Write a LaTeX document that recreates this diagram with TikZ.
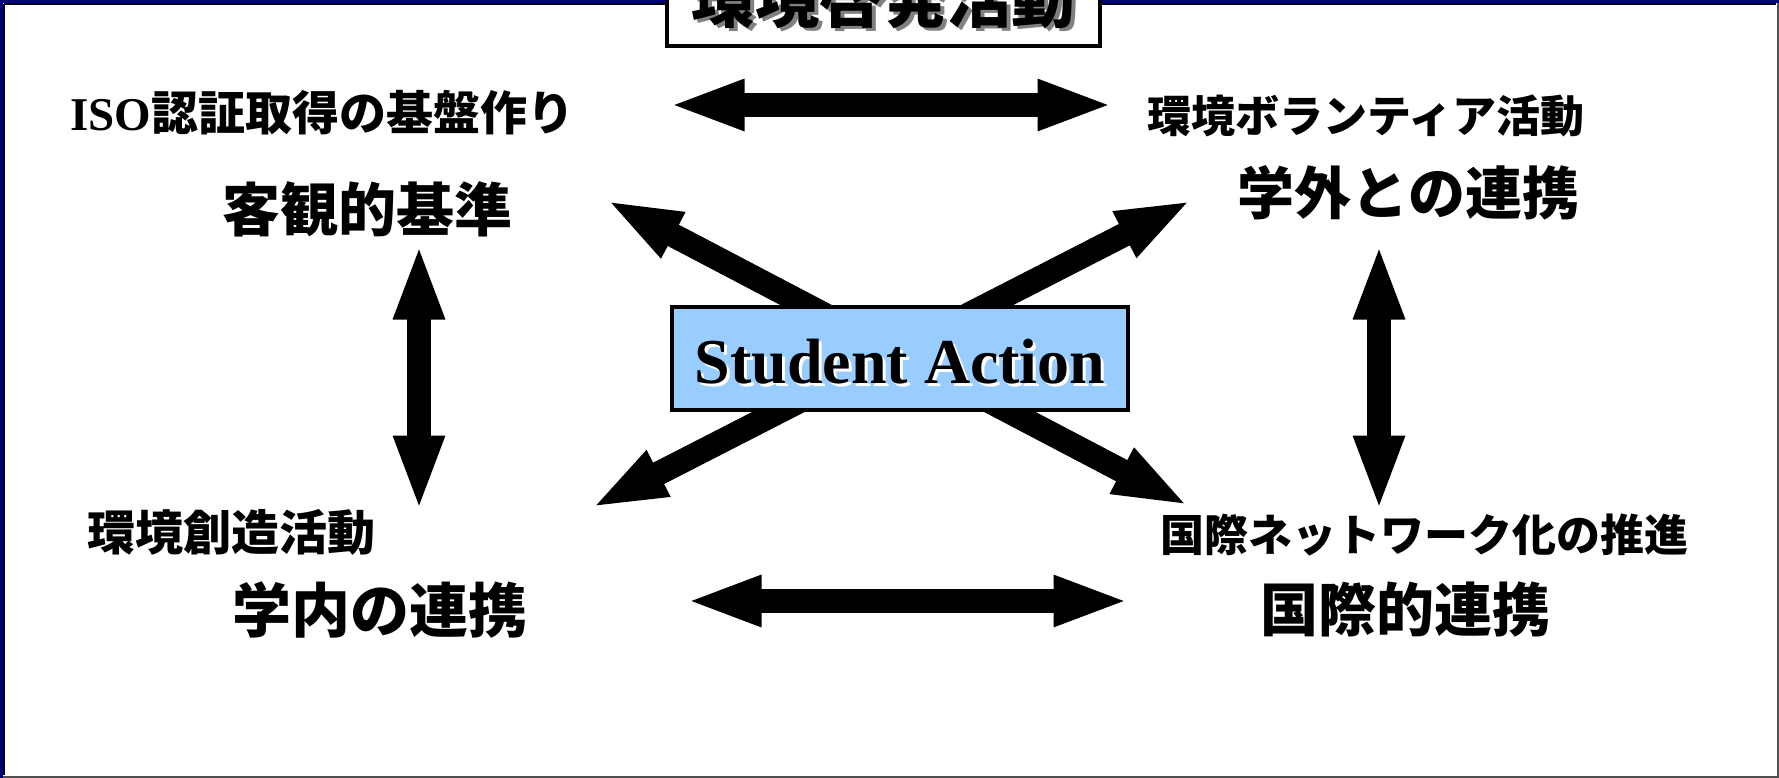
\documentclass[tikz,border=0pt]{standalone}
\usepackage{fontspec}
\setmainfont{Liberation Serif}
\newfontfamily\cjk{Noto Sans CJK JP}
\usetikzlibrary{arrows.meta}
\definecolor{navy}{RGB}{0,0,128}
\definecolor{boxblue}{RGB}{153,204,255}
\definecolor{framegray}{RGB}{80,80,80}
\tikzset{
  bigarrow/.style={line width=24pt,
    {Triangle[length=76pt,width=46pt]}-{Triangle[length=76pt,width=46pt]}},
  lab/.style={inner sep=0pt, text=black},
  small/.style={lab, font=\cjk\bfseries\fontsize{44pt}{50pt}\selectfont},
  big/.style={lab, font=\cjk\bfseries\fontsize{58pt}{64pt}\selectfont},
}
\begin{document}
\begin{tikzpicture}[x=1pt,y=-1pt]
\useasboundingbox (0,0) rectangle (1779,778);
\clip (0,0) rectangle (1779,778);
\fill[white] (0,0) rectangle (1779,778);
% outer frame
\draw[framegray, line width=2pt] (1,1) rectangle (1777.5,776.5);
\draw[navy, line width=3pt] (0,1.5) -- (1779,1.5);
\draw[navy, line width=3pt] (1.5,0) -- (1.5,778);
\draw[black, line width=2pt] (4,4) -- (1776,4);
\draw[black, line width=2pt] (4,4) -- (4,775);

% title
\node[draw=black, line width=3.5pt, fill=white, minimum width=433pt, minimum height=108pt, inner sep=0pt] (titlebox) at (883.5,-8) {};
\node[lab, text=gray, font=\cjk\bfseries\fontsize{64pt}{70pt}\selectfont] (titleshadow) at (887,1) {環境啓発活動};
\node[lab, font=\cjk\bfseries\fontsize{64pt}{70pt}\selectfont] (title) at (883,-2) {環境啓発活動};

% arrow end points
\coordinate (tl) at (606,200);
\coordinate (br) at (1189,506);
\coordinate (tr) at (1192,200);
\coordinate (bl) at (591,508);
\coordinate (ht1) at (668.5,105);
\coordinate (ht2) at (1113.5,105);
\coordinate (hb1) at (685.5,601);
\coordinate (hb2) at (1129.5,601);
\coordinate (vl1) at (419,243.5);
\coordinate (vl2) at (419,511.5);
\coordinate (vr1) at (1379,243.5);
\coordinate (vr2) at (1379,511.5);

% arrows
\draw[bigarrow] (tl) -- (br);
\draw[bigarrow] (tr) -- (bl);
\draw[bigarrow] (ht1) -- (ht2);
\draw[bigarrow] (hb1) -- (hb2);
\draw[bigarrow] (vl1) -- (vl2);
\draw[bigarrow] (vr1) -- (vr2);

% center box
\node[draw=black, line width=4pt, fill=boxblue, minimum width=456pt, minimum height=103pt, inner sep=0pt] (center) at (900,358.5) {};
\node[lab, text=white, anchor=base, font=\bfseries\fontsize{64pt}{70pt}\selectfont] (sashadow) at (903,386) {Student Action};
\node[lab, anchor=base, font=\bfseries\fontsize{64pt}{70pt}\selectfont] (sa) at (900,383) {Student Action};

% labels
\node[lab, font=\bfseries\fontsize{47pt}{52pt}\selectfont] (iso) at (322.5,113) {ISO{\cjk 認証取得の基盤作り}};
\node[big] (kyakkan) at (367,209) {客観的基準};
\node[small] (volunteer) at (1366,116) {環境ボランティア活動};
\node[big, font=\cjk\bfseries\fontsize{57pt}{62pt}\selectfont] (gakugai) at (1408.5,193) {学外との連携};
\node[small, font=\cjk\bfseries\fontsize{48pt}{52pt}\selectfont] (souzou) at (231.5,532) {環境創造活動};
\node[big, font=\cjk\bfseries\fontsize{59pt}{64pt}\selectfont] (gakunai) at (380,610) {学内の連携};
\node[small, font=\cjk\bfseries\fontsize{44pt}{50pt}\selectfont] (network) at (1424,535) {国際ネットワーク化の推進};
\node[big] (kokusai) at (1405,610) {国際的連携};
\end{tikzpicture}
\end{document}
